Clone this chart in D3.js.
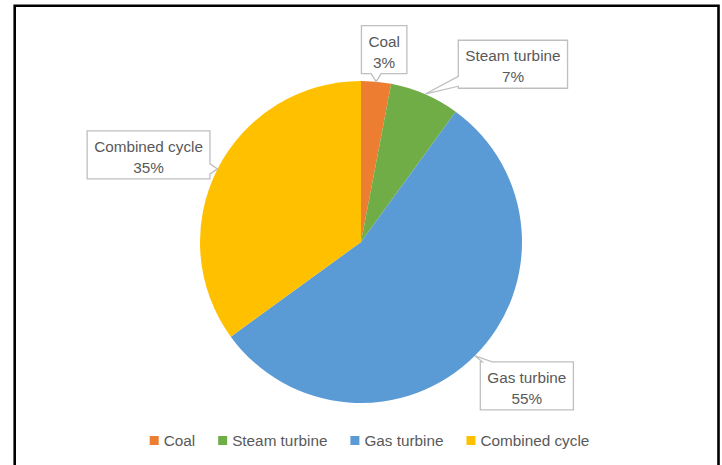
<!DOCTYPE html>
<html>
<head>
<meta charset="utf-8">
<script src="https://cdn.jsdelivr.net/npm/d3@7"></script>
<style>
  body { margin: 0; background: #fff; }
  svg { display: block; }
  text { font-family: "Liberation Sans", Arial, sans-serif; fill: #595959; }
</style>
</head>
<body>
<div id="chart"></div>
<script>
// data
const categories = ['Coal', 'Steam turbine', 'Gas turbine', 'Combined cycle'];
const shares = [3, 7, 55, 35];
const colors = ['#ED7D31', '#70AD47', '#5B9BD5', '#FFC000'];

// label box offsets from the slice edge point (layout only)
const labelOffsets = [[8, -32], [88, -30], [52, 30], [-69, -14]];
const labelSides = ['bottom', 'left', 'top', 'right'];

const W = 722, H = 465;
const cx = 361, cy = 242, R = 161;
const fontSize = 15.3;

const svg = d3.select('#chart').append('svg')
    .attr('width', W)
    .attr('height', H);

// black frame (bottom edge is cut off in the reference)
svg.append('path')
    .attr('d', `M14.7,${H + 5} L14.7,5.7 L718.5,5.7 L718.5,${H + 5}`)
    .attr('fill', 'none')
    .attr('stroke', '#000')
    .attr('stroke-width', 2.6);

let pie = d3.pie().sort(null).value(d => d.v);
let arcs = pie(categories.map((c, i) => ({ name: c, v: shares[i], i: i })));

let arc = d3.arc().innerRadius(0).outerRadius(R);

let g = svg.append('g').attr('transform', `translate(${cx},${cy})`);

g.selectAll('path.slice')
    .data(arcs)
    .join('path')
    .attr('class', 'slice')
    .attr('d', arc)
    .attr('fill', d => colors[d.data.i]);

// callout labels
function calloutPath(x0, y0, x1, y1, tx, ty, side) {
    const w = 10, m = 2;
    const clamp = (v, lo, hi) => Math.max(lo, Math.min(hi, v));
    let p = [];
    if (side === 'left') {
        let c = clamp(ty, y0 + w / 2 + m, y1 - w / 2 - m);
        p = [[x0, y0], [x1, y0], [x1, y1], [x0, y1], [x0, c + w / 2], [tx, ty], [x0, c - w / 2]];
    } else if (side === 'right') {
        let c = clamp(ty, y0 + w / 2 + m, y1 - w / 2 - m);
        p = [[x0, y0], [x1, y0], [x1, c - w / 2], [tx, ty], [x1, c + w / 2], [x1, y1], [x0, y1]];
    } else if (side === 'top') {
        let c = clamp(tx, x0 + w / 2 + m, x1 - w / 2 - m);
        p = [[x0, y0], [c - w / 2, y0], [tx, ty], [c + w / 2, y0], [x1, y0], [x1, y1], [x0, y1]];
    } else {
        let c = clamp(tx, x0 + w / 2 + m, x1 - w / 2 - m);
        p = [[x0, y0], [x1, y0], [x1, y1], [c + w / 2, y1], [tx, ty], [c - w / 2, y1], [x0, y1]];
    }
    return 'M' + p.map(q => q.join(',')).join('L') + 'Z';
}

let labels = svg.append('g');
arcs.forEach((d, i) => {
    let mid = (d.startAngle + d.endAngle) / 2;
    let tx = cx + R * Math.sin(mid);
    let ty = cy - R * Math.cos(mid);
    let bx = tx + labelOffsets[i][0];
    let by = ty + labelOffsets[i][1];

    let lg = labels.append('g');
    let box = lg.append('path');
    let t1 = lg.append('text')
        .attr('x', bx).attr('text-anchor', 'middle')
        .style('font-size', fontSize + 'px')
        .text(d.data.name);
    let t2 = lg.append('text')
        .attr('x', bx).attr('text-anchor', 'middle')
        .style('font-size', fontSize + 'px')
        .text(d3.format('.0f')(d.data.v) + '%');

    let tw = Math.max(t1.node().getComputedTextLength(), t2.node().getComputedTextLength());
    let bw = tw + 14, bh = 48;
    let x0 = bx - bw / 2, y0 = by - bh / 2;
    t1.attr('y', y0 + 21);
    t2.attr('y', y0 + 42);

    box.attr('d', calloutPath(x0, y0, x0 + bw, y0 + bh, tx, ty, labelSides[i]))
        .attr('fill', '#fff')
        .attr('stroke', '#BFBFBF')
        .attr('stroke-width', 1.3);
});

// legend
let legend = svg.append('g');
let items = legend.selectAll('g')
    .data(categories)
    .join('g');
items.append('rect')
    .attr('width', 9).attr('height', 9)
    .attr('y', 436)
    .attr('fill', (d, i) => colors[i]);
items.append('text')
    .attr('x', 14).attr('y', 446)
    .style('font-size', fontSize + 'px')
    .text(d => d);

let widths = [];
items.select('text').each(function () { widths.push(this.getComputedTextLength() + 14); });
const gap = 23;
let total = d3.sum(widths) + gap * (widths.length - 1);
let xPos = 369.5 - total / 2;
items.attr('transform', (d, i) => {
    let x = xPos;
    xPos += widths[i] + gap;
    return `translate(${x},0)`;
});
</script>
</body>
</html>
